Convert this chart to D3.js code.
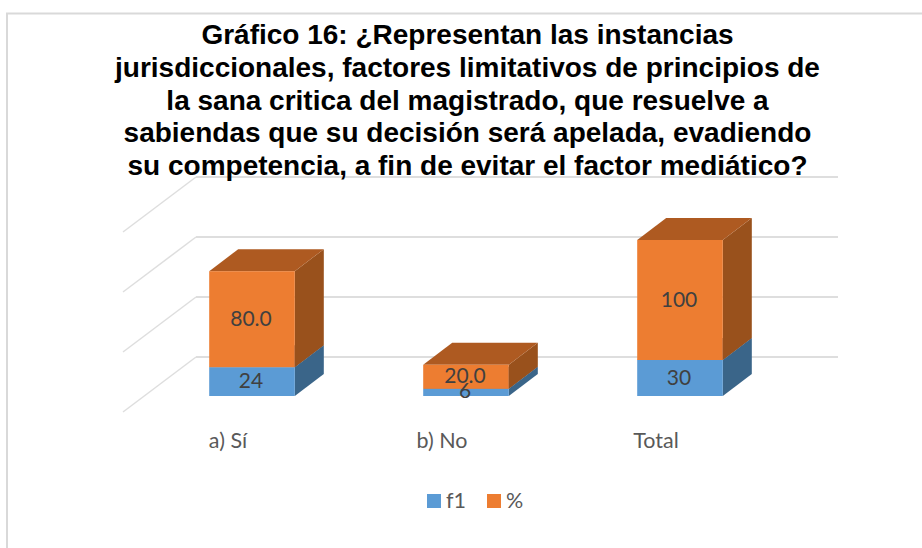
<!DOCTYPE html>
<html>
  <head>
    <meta charset="UTF-8">
    <title>Gráfico 16</title>
    <style>
    html, body { margin: 0; padding: 0; background: #fff; }
    svg { display: block; }
    .title { font-family: "Liberation Sans", Arial, sans-serif; font-weight: bold; font-size: 28px; fill: #000; text-anchor: middle; }
    .lbl { font-family: Lato, "Open Sans", sans-serif; font-size: 21px; fill: #404040; text-anchor: middle; dominant-baseline: central; }
    .tick text, .leg { font-family: Lato, "Open Sans", sans-serif; font-size: 21.5px; fill: #595959; }
    </style>
  </head>
  <body>
    <svg id="chart" width="922" height="548"></svg>
    <script src="https://cdn.jsdelivr.net/npm/d3@7"></script>
    <script>
    var titleLines = [
      "Gráfico 16: ¿Representan las instancias",
      "jurisdiccionales, factores limitativos de principios de",
      "la sana critica del magistrado, que resuelve a",
      "sabiendas que su decisión será apelada, evadiendo",
      "su competencia, a fin de evitar el factor mediático?"
    ];
    var categories = ["a) Sí", "b) No", "Total"];
    var f1 = [24, 6, 30];
    var pct = [80, 20, 100];
    var f1Labels = ["24", "6", "30"];
    var pctLabels = ["80.0", "20.0", "100"];
    var gridTicks = [0, 50, 100, 150];

    var dx = 29, dy = -22;       // depth of the bars
    var wallDx = 73, wallDy = 55; // depth of the floor
    var wallLift = 39;

    var svg = d3.select("#chart");

    // frame of the pasted chart
    svg.append("path")
      .attr("d", "M7,548V13.5H922")
      .attr("fill", "none")
      .attr("stroke", "#d9d9d9")
      .attr("stroke-width", 2);

    var x = d3.scaleBand().domain(categories).range([145, 787]).paddingInner(0.6).paddingOuter(0.3);
    var y = d3.scaleLinear().domain([0, 130]).range([396, 240]);

    // back wall and side wall lines
    var grid = svg.append("g").attr("stroke", "#dedede").attr("fill", "none");
    gridTicks.forEach(function(t) {
      var yb = y(t) - wallLift;
      grid.append("line").attr("x1", 196).attr("x2", 838).attr("y1", yb).attr("y2", yb).attr("stroke-width", 2);
      grid.append("line").attr("x1", 196).attr("x2", 196 - wallDx).attr("y1", yb).attr("y2", yb + wallDy).attr("stroke-width", 1.5);
    });

    function box(g, x0, w, y0, y1, cols) {
      // side, top, front
      g.append("polygon")
        .attr("points", [[x0 + w, y1], [x0 + w + dx, y1 + dy], [x0 + w + dx, y0 + dy], [x0 + w, y0]].join(" "))
        .attr("fill", cols[1]);
      g.append("polygon")
        .attr("points", [[x0, y1], [x0 + dx, y1 + dy], [x0 + w + dx, y1 + dy], [x0 + w, y1]].join(" "))
        .attr("fill", cols[2]);
      g.append("rect")
        .attr("x", x0).attr("y", y1).attr("width", w).attr("height", y0 - y1)
        .attr("fill", cols[0]);
    }

    var blue = ["#5b9bd5", "#3a6589", "#3f6d96"];
    var orange = ["#ed7d31", "#99511c", "#ae5a21"];

    var bars = svg.append("g");
    categories.forEach(function(c, i) {
      var g = bars.append("g");
      box(g, x(c), x.bandwidth(), y(0), y(f1[i]), blue);
      box(g, x(c), x.bandwidth(), y(f1[i]), y(f1[i] + pct[i]), orange);
    });

    var labels = svg.append("g");
    categories.forEach(function(c, i) {
      var cx = x(c) + x.bandwidth() / 2 - 1;
      labels.append("text").attr("class", "lbl")
        .attr("x", cx).attr("y", y(f1[i] + pct[i] / 2) - 2)
        .text(pctLabels[i]);
      labels.append("text").attr("class", "lbl")
        .attr("x", cx).attr("y", y(f1[i] / 2) - 2 + (f1[i] < 10 ? -1 : 0))
        .text(f1Labels[i]);
    });

    // category axis sits under the floor, shifted left with the depth
    var axis = d3.axisBottom(x).tickSize(0).tickPadding(0);
    svg.append("g")
      .attr("transform", "translate(-24,432)")
      .call(axis)
      .call(function(g) { g.select(".domain").remove(); })
      .selectAll("text").attr("dy", "0.75em");

    // legend
    var legend = [["f1", "#5b9bd5", 427], ["%", "#ed7d31", 487]];
    legend.forEach(function(l) {
      svg.append("rect").attr("x", l[2]).attr("y", 494).attr("width", 14).attr("height", 14).attr("fill", l[1]);
      svg.append("text").attr("class", "leg").attr("x", l[2] + 19).attr("y", 508).text(l[0]);
    });

    svg.append("g").selectAll("text")
      .data(titleLines)
      .enter()
      .append("text")
      .attr("class", "title")
      .attr("x", 467.5)
      .attr("y", function(d, i) { return 44 + i * 32.8; })
      .text(function(d) { return d; });
    </script>
  </body>
</html>
